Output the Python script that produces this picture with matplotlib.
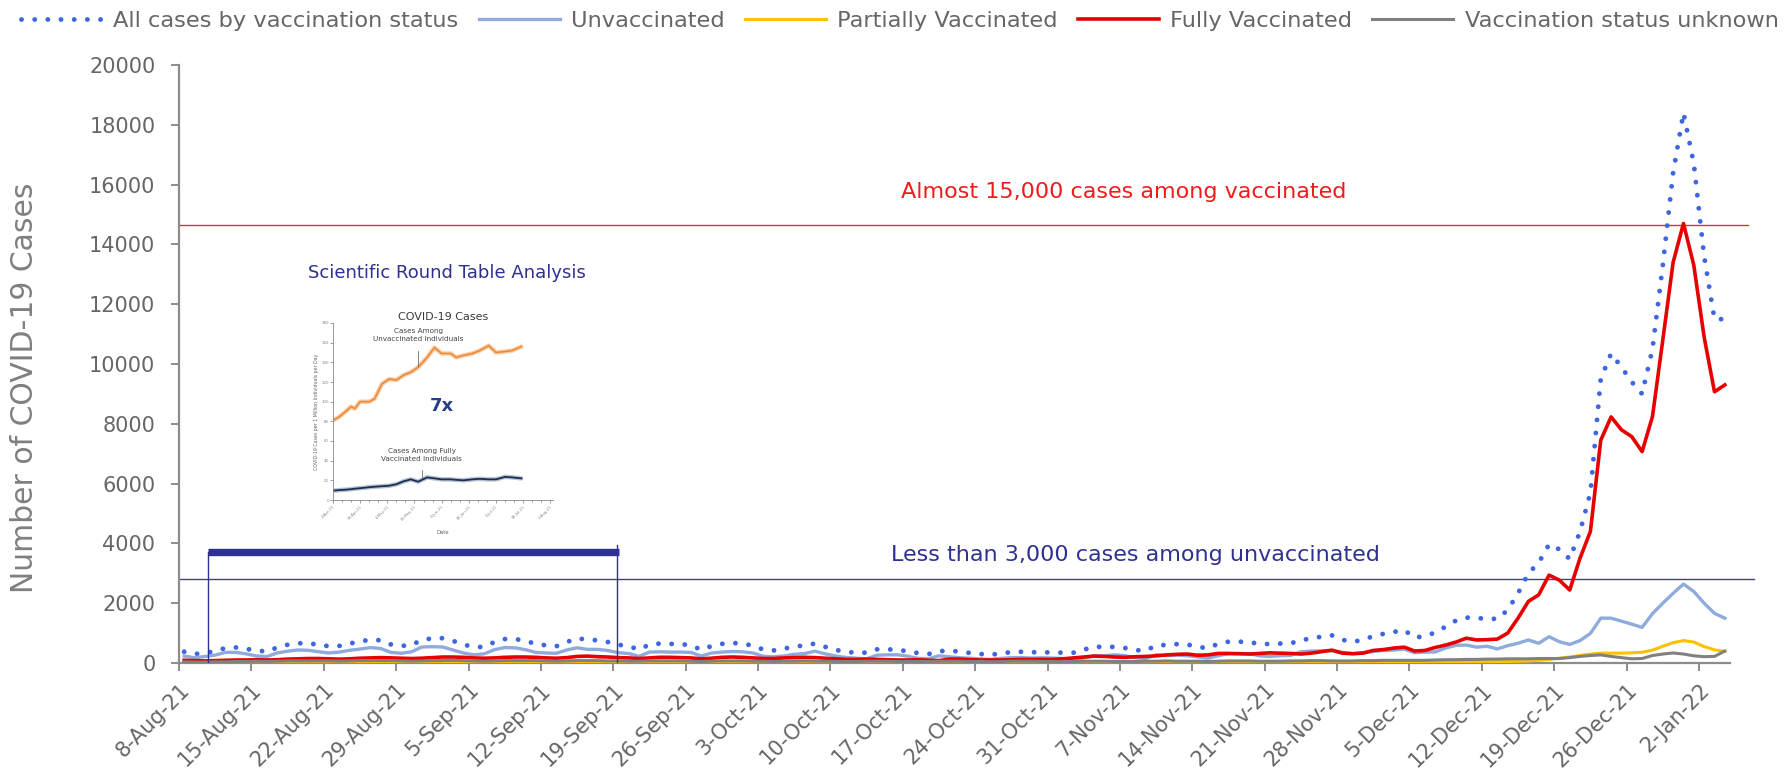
import matplotlib
matplotlib.use("Agg")
import matplotlib.pyplot as plt
import numpy as np

# ---------------- data (daily, 8-Aug-21 .. 4-Jan-22) ----------------
total = [378, 300, 330, 400, 500, 520, 470,
         420, 380, 520, 610, 660, 660, 610,
         560, 570, 650, 720, 780, 760, 620,
         570, 600, 780, 820, 830, 740, 620,
         530, 540, 700, 802, 802, 740, 640,
         590, 560, 700, 825, 780, 760, 700,
         610, 560, 450, 620, 650, 640, 630,
         600, 440, 568, 640, 670, 650, 580,
         450, 420, 480, 545, 590, 650, 540,
         440, 370, 346, 346, 457, 457, 440,
         390, 330, 301, 395, 412, 380, 335,
         301, 275, 320, 365, 375, 360, 360,
         350, 345, 345, 445, 546, 535, 540,
         500, 430, 412, 590, 602, 630, 620,
         540, 495, 640, 713, 713, 700, 635,
         635, 650, 658, 760, 825, 880, 925,
         775, 710, 770, 900, 975, 1040, 1100,
         847, 900, 1020, 1215, 1420, 1520, 1494,
         1494, 1470, 1773, 2330, 3000, 3350, 3970,
         3800, 3480, 4400, 5700, 9500, 10350, 9900,
         9400, 9000, 10500, 13300, 16400, 18400, 16700,
         13600, 11500, 11500]

unvaccinated = [233, 175, 215, 265, 355, 355, 305,
                235, 215, 335, 395, 435, 425, 375,
                335, 365, 425, 465, 515, 485, 355,
                325, 375, 535, 545, 535, 435, 335,
                275, 305, 445, 517, 507, 445, 355,
                335, 325, 435, 510, 455, 455, 415,
                345, 315, 225, 365, 375, 365, 365,
                355, 235, 333, 365, 385, 375, 335,
                225, 205, 235, 290, 315, 395, 305,
                235, 185, 161, 141, 262, 272, 275,
                225, 155, 146, 240, 207, 175, 160,
                136, 120, 155, 180, 180, 165, 175,
                165, 150, 130, 170, 241, 240, 275,
                245, 175, 150, 275, 247, 265, 245,
                205, 160, 245, 308, 318, 315, 240,
                220, 245, 253, 375, 400, 405, 410,
                360, 315, 345, 385, 420, 435, 465,
                342, 365, 370, 500, 590, 600, 530,
                560, 470, 580, 660, 770, 660, 880,
                710, 620, 750, 990, 1500, 1500, 1400,
                1300, 1190, 1650, 2000, 2330, 2640, 2390,
                2000, 1660, 1500]

partially = [15, 15, 15, 15, 15, 15, 15,
             15, 15, 15, 15, 15, 15, 15,
             15, 15, 15, 15, 15, 15, 15,
             15, 15, 15, 15, 15, 15, 15,
             15, 15, 15, 15, 15, 15, 15,
             15, 15, 15, 15, 15, 15, 15,
             15, 15, 15, 15, 15, 15, 15,
             15, 15, 15, 15, 15, 15, 15,
             15, 15, 15, 15, 15, 15, 15,
             15, 15, 15, 15, 15, 15, 15,
             15, 15, 15, 15, 15, 15, 15,
             15, 15, 15, 15, 15, 15, 15,
             15, 15, 15, 15, 15, 15, 15,
             15, 15, 15, 15, 15, 15, 15,
             15, 15, 15, 15, 15, 15, 15,
             15, 15, 15, 15, 15, 15, 15,
             15, 15, 15, 15, 15, 15, 15,
             15, 25, 30, 35, 40, 40, 45,
             50, 50, 50, 60, 70, 90, 120,
             160, 200, 250, 300, 330, 330, 330,
             340, 360, 430, 560, 680, 750, 700,
             550, 440, 390]

fully = [90, 80, 70, 80, 90, 100, 100,
         110, 100, 110, 130, 140, 150, 150,
         140, 130, 140, 160, 170, 180, 170,
         160, 150, 160, 180, 200, 200, 190,
         170, 160, 170, 190, 200, 200, 190,
         170, 160, 180, 220, 230, 210, 200,
         180, 170, 150, 170, 190, 190, 180,
         170, 140, 160, 190, 200, 190, 170,
         150, 150, 170, 180, 190, 180, 160,
         140, 120, 120, 130, 120, 110, 100,
         100, 110, 90, 80, 130, 130, 110,
         100, 100, 100, 110, 120, 120, 120,
         120, 140, 170, 200, 230, 220, 200,
         190, 210, 220, 240, 270, 290, 300,
         260, 270, 320, 320, 310, 300, 320,
         340, 330, 320, 300, 330, 380, 430,
         330, 310, 330, 420, 450, 500, 530,
         400, 420, 520, 600, 700, 830, 770,
         780, 800, 1000, 1500, 2060, 2280, 2940,
         2770, 2440, 3510, 4400, 7450, 8230, 7800,
         7570, 7070, 8240, 10800, 13400, 14700, 13300,
         10900, 9070, 9300]

unknown = [40, 30, 30, 40, 40, 50, 50,
           60, 50, 60, 70, 70, 70, 70,
           70, 60, 70, 80, 80, 80, 80,
           70, 60, 70, 80, 80, 90, 80,
           70, 60, 70, 80, 80, 80, 80,
           70, 60, 70, 80, 80, 80, 70,
           70, 60, 60, 70, 70, 70, 70,
           60, 50, 60, 70, 70, 70, 60,
           60, 50, 60, 60, 70, 60, 60,
           50, 50, 50, 60, 60, 60, 50,
           50, 50, 50, 60, 60, 60, 50,
           50, 40, 50, 60, 60, 60, 50,
           50, 40, 50, 60, 60, 60, 50,
           50, 50, 60, 60, 70, 60, 60,
           60, 50, 60, 70, 70, 70, 60,
           60, 60, 70, 70, 80, 80, 70,
           70, 70, 80, 80, 90, 90, 90,
           90, 90, 100, 110, 110, 120, 120,
           130, 130, 140, 140, 140, 150, 150,
           150, 180, 220, 250, 270, 220, 180,
           140, 150, 250, 300, 335, 300, 240,
           212, 220, 400]

tick_labels = ['8-Aug-21', '15-Aug-21', '22-Aug-21', '29-Aug-21', '5-Sep-21',
               '12-Sep-21', '19-Sep-21', '26-Sep-21', '3-Oct-21', '10-Oct-21',
               '17-Oct-21', '24-Oct-21', '31-Oct-21', '7-Nov-21', '14-Nov-21',
               '21-Nov-21', '28-Nov-21', '5-Dec-21', '12-Dec-21', '19-Dec-21',
               '26-Dec-21', '2-Jan-22']

vaccinated_ref = 14650
unvaccinated_ref = 2800
bracket_start, bracket_end, bracket_level = 2.8, 42.6, 3700

# inset (Scientific Round Table chart)
inset_pos = [0, 3, 7, 10, 12, 15, 20, 23, 27, 31, 35, 39, 43, 47, 52, 56,
             60, 65, 68, 72, 77, 81, 86, 90, 95, 99, 104]
inset_unvax = [81, 84, 90, 95, 93, 100, 100, 103, 118, 123, 122, 127, 130, 135,
               145, 155, 149, 149, 145, 147, 149, 152, 157, 150, 151, 152, 156]
inset_full = [9.5, 10, 10.5, 11, 11.5, 12, 13, 13.5, 14, 14.5, 16, 19, 21, 18.6,
              23, 22, 21, 21, 20.5, 20, 21, 21.5, 21, 21, 23.5, 23, 22]
inset_ticklabels = ['4-Apr-21', '19-Apr-21', '4-May-21', '19-May-21', '3-Jun-21',
                    '18-Jun-21', '3-Jul-21', '18-Jul-21', '2-Aug-21']

# ---------------- figure ----------------
plt.rcParams['font.family'] = ['DejaVu Sans']
W, H = 1789, 781
fig = plt.figure(figsize=(W / 100, H / 100), dpi=100)
ax = fig.add_axes([179 / W, 1 - 663 / H, (1730 - 179) / W, (663 - 65) / H])

n = len(total)
x = np.arange(n) + 0.5

c_total = '#3f66e0'
c_unvax = '#8faadc'
c_part = '#ffc000'
c_full = '#e60000'
c_unk = '#808080'
c_navy = '#2e3192'
grey_txt = '#666666'

l_total, = ax.plot(x, total, color=c_total, lw=3.5, linestyle=(0, (0.01, 2.7)),
                   dash_capstyle='round', label='All cases by vaccination status', zorder=3)
l_unvax, = ax.plot(x, unvaccinated, color=c_unvax, lw=2.4, label='Unvaccinated', zorder=4)
l_part, = ax.plot(x, partially, color=c_part, lw=2.2, label='Partially Vaccinated', zorder=5)
l_full, = ax.plot(x, fully, color=c_full, lw=2.6, label='Fully Vaccinated', zorder=6)
l_unk, = ax.plot(x, unknown, color=c_unk, lw=2.2, label='Vaccination status unknown', zorder=7)

ax.set_xlim(0, n)
ax.set_ylim(0, 20000)
ax.set_yticks(np.arange(0, 20001, 2000))
ax.set_yticklabels([str(v) for v in range(0, 20001, 2000)])
ax.set_xticks(np.arange(0, len(tick_labels) * 7, 7))
ax.set_xticklabels(tick_labels, rotation=45, ha='right', rotation_mode='anchor')

for s in ['top', 'right']:
    ax.spines[s].set_visible(False)
for s in ['left', 'bottom']:
    ax.spines[s].set_color('#8c8c8c')
    ax.spines[s].set_linewidth(1.6)
ax.tick_params(axis='both', colors='#8c8c8c', length=6, width=1.4, direction='out',
               labelsize=15, labelcolor=grey_txt)
ax.tick_params(axis='x', pad=6)
ax.tick_params(axis='y', pad=11)

ax.set_ylabel('Number of COVID-19 Cases', fontsize=21.5, color='#7f7f7f')
ax.yaxis.set_label_coords(-0.0905, 0.46)

# reference lines and annotations
ax.axhline(vaccinated_ref, xmin=0, xmax=1.0116, color='#ee2a2a', lw=1.0, clip_on=False, zorder=2)
ax.axhline(unvaccinated_ref, xmin=0, xmax=1.0155, color='#3a3fa0', lw=1.0, clip_on=False, zorder=2)
ax.text(91.4, 15750, 'Almost 15,000 cases among vaccinated', color='#ee1c1c',
        fontsize=16, ha='center', va='center')
ax.text(92.5, 3610, 'Less than 3,000 cases among unvaccinated', color=c_navy,
        fontsize=16, ha='center', va='center')

# bracket
ax.plot([bracket_start, bracket_end], [bracket_level, bracket_level], color=c_navy,
        lw=5.3, solid_capstyle='butt', zorder=8)
ax.plot([bracket_start, bracket_start], [0, bracket_level], color=c_navy, lw=1.0, zorder=8)
ax.plot([bracket_end - 0.25, bracket_end - 0.25], [0, bracket_level + 250], color=c_navy, lw=1.0, zorder=8)

fig.text(447 / W, 1 - 273 / H, 'Scientific Round Table Analysis', color=c_navy,
         fontsize=13, ha='center', va='center')

# legend
leg = ax.legend(handles=[l_total, l_unvax, l_part, l_full, l_unk], loc='upper center',
                bbox_to_anchor=(0.503, 1.0), bbox_transform=fig.transFigure, ncol=5,
                frameon=False, fontsize=16.2, handlelength=3.6, handletextpad=0.5,
                columnspacing=0.9, borderaxespad=0.1)
for t in leg.get_texts():
    t.set_color(grey_txt)

# ---------------- inset ----------------
ins = fig.add_axes([333 / W, 1 - 500 / H, (553 - 333) / W, (500 - 323) / H])
ins.plot(inset_pos, inset_unvax, color='#f9c79a', lw=3.2, alpha=0.9, solid_capstyle='round')
ins.plot(inset_pos, inset_unvax, color='#ec8a3a', lw=1.2)
ins.plot(inset_pos, inset_full, color='#9fb1c8', lw=3.2, alpha=0.8, solid_capstyle='round')
ins.plot(inset_pos, inset_full, color='#1b2f4e', lw=1.3)
ins.set_xlim(0, 121.5)
ins.set_ylim(0, 180)
ins.set_yticks(np.arange(0, 181, 20))
ins.set_yticklabels([str(v) for v in range(0, 181, 20)])
ins.set_xticks(np.arange(0, 121, 15))
ins.set_xticklabels(inset_ticklabels, rotation=45, ha='right', rotation_mode='anchor')
ins.set_xticks(np.arange(0, 122, 5), minor=True)
ins.tick_params(axis='both', labelsize=2.8, length=2, width=0.5, colors='#777777',
                labelcolor='#888888', pad=1)
ins.tick_params(axis='x', which='minor', length=1.5, width=0.5, colors='#777777')
for s in ['top', 'right']:
    ins.spines[s].set_visible(False)
for s in ['left', 'bottom']:
    ins.spines[s].set_color('#888888')
    ins.spines[s].set_linewidth(0.6)
ins.set_title('COVID-19 Cases', fontsize=8, color='#3a3a3a', pad=2)
ins.set_ylabel('COVID-19 Cases per 1 Million Individuals per Day', fontsize=3.4, color='#666666', labelpad=2)
ins.set_xlabel('Date', fontsize=3.8, color='#666666', labelpad=6)
ins.text(47, 168, 'Cases Among\nUnvaccinated Individuals', fontsize=5.2, ha='center', va='center',
         color='#444444', linespacing=1.3)
ins.plot([47, 47], [136, 152], color='#555555', lw=0.5)
ins.text(60, 96, '7x', fontsize=13, ha='center', va='center', color='#2b3a8c', fontweight='bold')
ins.text(49, 46, 'Cases Among Fully\nVaccinated Individuals', fontsize=5.2, ha='center', va='center',
         color='#444444', linespacing=1.3)
ins.plot([49, 49], [22, 31], color='#555555', lw=0.5)

fig.savefig('out.png', dpi=100, facecolor='white')
